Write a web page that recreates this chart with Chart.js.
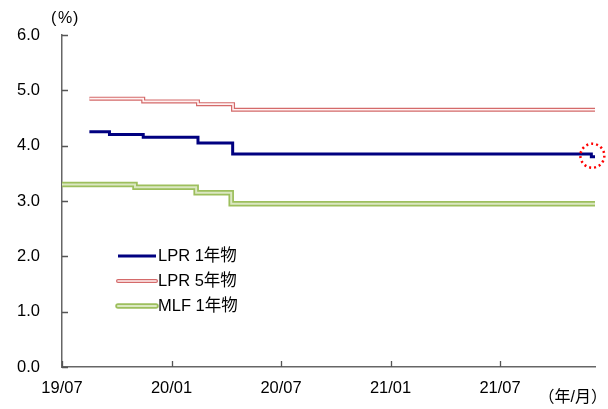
<!DOCTYPE html>
<html>
<head>
<meta charset="utf-8">
<script src="https://cdn.jsdelivr.net/npm/chart.js@4"></script>
<style>
html,body{margin:0;padding:0;background:#fff;}
#wrap{width:608px;height:409px;position:relative;}
</style>
</head>
<body>
<div id="wrap"><canvas id="c" width="608" height="409"></canvas></div>
<script>
// x values: months elapsed since 2019/07
const tickMonths = [0, 6, 12, 18, 24];
const tickLabels = ['19/07', '20/01', '20/07', '21/01', '21/07'];
const yTicks = [0, 1, 2, 3, 4, 5, 6];

const lpr1X = [1.5, 2.6, 4.45, 7.45, 9.35, 29.0, 29.2];
const lpr1Y = [4.25, 4.20, 4.15, 4.05, 3.85, 3.80, 3.80];

const lpr5X = [1.5, 4.45, 7.45, 9.37, 29.2];
const lpr5Y = [4.85, 4.80, 4.75, 4.65, 4.65];

const mlfX = [0, 4.0, 7.35, 9.27, 29.2];
const mlfY = [3.30, 3.25, 3.15, 2.95, 2.95];

const seriesNames = ['LPR 1年物', 'LPR 5年物', 'MLF 1年物'];

const toPts = (xs, ys) => xs.map((x, i) => ({x: x, y: ys[i]}));
const FONT = '"Liberation Sans", Arial, "Noto Sans CJK JP", sans-serif';

const styles = {
  lpr1: {outer: '#000080', w: 3},
  lpr5: {outer: '#d46a6a', inner: '#fff2f2', w: 4, wi: 1.6},
  mlf: {outer: '#9dbf5d', inner: '#dbe8c2', w: 5.5, wi: 2}
};

const mk = (label, pts, color, width, order) => ({
  label: label, data: pts, borderColor: color, borderWidth: width,
  stepped: 'before', pointRadius: 0, fill: false, tension: 0, order: order,
  borderCapStyle: 'butt', borderJoinStyle: 'miter'
});

const datasets = [
  mk(seriesNames[2], toPts(mlfX, mlfY), styles.mlf.outer, styles.mlf.w, 4),
  mk(seriesNames[2] + ' ', toPts(mlfX, mlfY), styles.mlf.inner, styles.mlf.wi, 3),
  mk(seriesNames[1], toPts(lpr5X, lpr5Y), styles.lpr5.outer, styles.lpr5.w, 2),
  mk(seriesNames[1] + ' ', toPts(lpr5X, lpr5Y), styles.lpr5.inner, styles.lpr5.wi, 1),
  mk(seriesNames[0], toPts(lpr1X, lpr1Y), styles.lpr1.outer, styles.lpr1.w, 0)
];

const extras = {
  id: 'extras',
  afterDraw(chart) {
    const ctx = chart.ctx;
    const xs = chart.scales.x, ys = chart.scales.y;
    const ca = chart.chartArea;
    ctx.save();
    // inward tick marks
    ctx.strokeStyle = '#555';
    ctx.lineWidth = 1.3;
    ctx.beginPath();
    yTicks.forEach(v => {
      const y = Math.round(ys.getPixelForValue(v)) + 0.5;
      ctx.moveTo(ca.left, y); ctx.lineTo(ca.left + 6, y);
    });
    tickMonths.forEach(v => {
      const x = Math.round(xs.getPixelForValue(v)) + 0.5;
      ctx.moveTo(x, ca.bottom); ctx.lineTo(x, ca.bottom - 6);
    });
    ctx.stroke();

    // red dotted circle at last LPR1 change
    const n = lpr1X.length - 2;
    const cx = xs.getPixelForValue(lpr1X[n]) + 1;
    const cy = ys.getPixelForValue(lpr1Y[n]) - 1;
    ctx.strokeStyle = '#ff0000';
    ctx.lineWidth = 2.5;
    ctx.setLineDash([2, 3]);
    ctx.beginPath();
    ctx.arc(cx, cy, 12, 0, Math.PI * 2);
    ctx.stroke();
    ctx.setLineDash([]);

    // legend
    const lx0 = 118, lx1 = 156;
    const rows = [
      {y: 256, s: styles.lpr1, name: seriesNames[0]},
      {y: 281, s: styles.lpr5, name: seriesNames[1]},
      {y: 306, s: styles.mlf, name: seriesNames[2]}
    ];
    rows.forEach(r => {
      ctx.strokeStyle = r.s.outer; ctx.lineWidth = r.s.w;
      ctx.lineCap = r.s.inner ? 'round' : 'butt';
      ctx.beginPath(); ctx.moveTo(lx0, r.y); ctx.lineTo(lx1, r.y); ctx.stroke();
      if (r.s.inner) {
        ctx.strokeStyle = r.s.inner; ctx.lineWidth = r.s.wi;
        ctx.beginPath(); ctx.moveTo(lx0, r.y); ctx.lineTo(lx1, r.y); ctx.stroke();
      }
      ctx.fillStyle = '#000';
      ctx.font = '16.5px ' + FONT;
      ctx.textAlign = 'left'; ctx.textBaseline = 'middle';
      ctx.fillText(r.name, lx1 + 2, r.y);
    });

    // unit labels
    ctx.fillStyle = '#000';
    ctx.font = '16px ' + FONT;
    ctx.textBaseline = 'middle';
    ctx.textAlign = 'left';
    ctx.fillText('(', 51, 19);
    ctx.fillText('%', 58, 19);
    ctx.fillText(')', 73, 19);
    ctx.textAlign = 'right';
    ctx.fillText('（年/月）', 607, 398);
    ctx.restore();
  }
};

new Chart(document.getElementById('c'), {
  type: 'line',
  data: {datasets: datasets},
  plugins: [extras],
  options: {
    responsive: false,
    animation: false,
    devicePixelRatio: 1,
    layout: {padding: {top: 35, right: 13, left: 0, bottom: 0}},
    plugins: {legend: {display: false}, tooltip: {enabled: false}},
    scales: {
      x: {
        type: 'linear', min: 0, max: 29.2,
        grid: {display: false, drawTicks: false},
        border: {display: true, color: '#666', width: 1.5},
        afterBuildTicks: s => { s.ticks = tickMonths.map(v => ({value: v})); },
        afterFit: s => { s.height = 42; },
        ticks: {
          padding: 12, maxRotation: 0, autoSkip: false,
          color: '#000', font: {size: 16.5, family: FONT},
          callback: (v) => { const i = tickMonths.indexOf(v); return i >= 0 ? tickLabels[i] : ''; }
        }
      },
      y: {
        min: 0, max: 6,
        grid: {display: false, drawTicks: false},
        border: {display: true, color: '#666', width: 1.5},
        afterBuildTicks: s => { s.ticks = yTicks.map(v => ({value: v})); },
        afterFit: s => { s.width = 62; },
        ticks: {
          padding: 22, color: '#000', font: {size: 16.5, family: FONT},
          callback: v => v.toFixed(1)
        }
      }
    }
  }
});
</script>
</body>
</html>
